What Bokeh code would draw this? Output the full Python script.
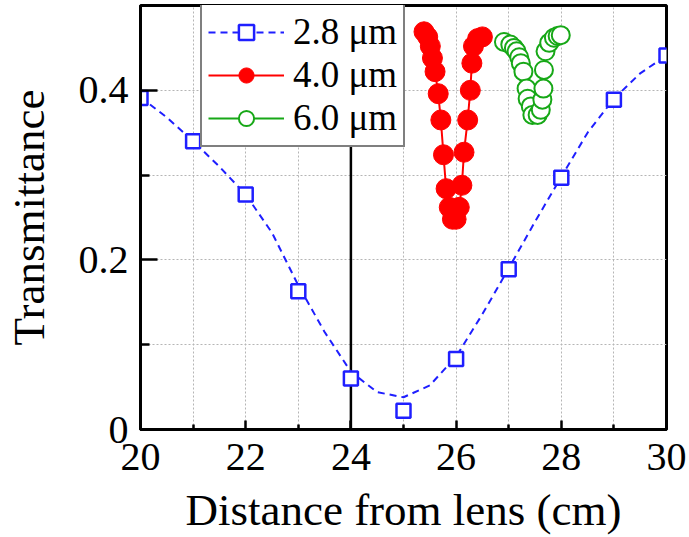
from bokeh.plotting import figure
from bokeh.models import Range1d, FixedTicker, Legend, LegendItem, Span
from bokeh.embed import file_html
from bokeh.resources import INLINE

# ---------------- data ----------------
distance_28 = [20, 21, 22, 23, 24, 25, 26, 27, 28, 29, 30]
trans_28 = [0.391, 0.340, 0.277, 0.163, 0.060, 0.022, 0.083, 0.189, 0.297, 0.389, 0.441]

fit_distance_28 = [20, 20.5, 21, 21.5, 22, 22.5, 23, 23.5, 24, 24.5, 25, 25.5,
                   26, 26.5, 27, 27.5, 28, 28.5, 29, 29.5, 30]
fit_trans_28 = [0.392, 0.368, 0.340, 0.310, 0.277, 0.232, 0.170, 0.115, 0.068, 0.044,
                0.038, 0.052, 0.086, 0.136, 0.190, 0.245, 0.298, 0.350, 0.390, 0.420, 0.441]

distance_40 = [25.39, 25.46, 25.51, 25.55, 25.60, 25.66, 25.71, 25.76, 25.81, 25.87, 25.93,
               26.00, 26.06, 26.11, 26.15, 26.22, 26.27, 26.30, 26.33, 26.41, 26.50]
trans_40 = [0.469, 0.463, 0.452, 0.438, 0.422, 0.396, 0.365, 0.324, 0.284, 0.262, 0.248,
            0.248, 0.262, 0.288, 0.327, 0.365, 0.400, 0.432, 0.452, 0.461, 0.463]

distance_60 = [26.91, 27.03, 27.10, 27.15, 27.20, 27.23, 27.28, 27.34, 27.36, 27.42, 27.45,
               27.55, 27.61, 27.64, 27.66, 27.67, 27.70, 27.77, 27.86, 27.93, 27.99]
trans_60 = [0.457, 0.454, 0.450, 0.446, 0.439, 0.432, 0.422, 0.402, 0.390, 0.381, 0.371,
            0.371, 0.377, 0.389, 0.402, 0.424, 0.446, 0.456, 0.462, 0.464, 0.465]

series_labels = ["2.8 μm", "4.0 μm", "6.0 μm"]
x_ticks = [20, 22, 24, 26, 28, 30]
x_minor_ticks = [21, 23, 25, 27, 29]
y_ticks = [0, 0.2, 0.4]
y_minor_ticks = [0.1, 0.3]
y_tick_labels = ["0", "0.2", "0.4"]
reference_distance = 24

FONT = "Liberation Serif"
BLUE = "#1f1fff"
RED = "#ff0000"
GREEN = "#17a817"

# ---------------- figure ----------------
p = figure(width=689, height=537, output_backend="svg", toolbar_location=None,
           x_range=Range1d(20, 30), y_range=Range1d(0, 0.5),
           min_border_left=139, min_border_right=23, min_border_top=5, min_border_bottom=107)
p.background_fill_color = "white"
p.border_fill_color = "white"
p.outline_line_color = "black"
p.outline_line_width = 3

# axes
p.xaxis.ticker = FixedTicker(ticks=x_ticks, minor_ticks=x_minor_ticks)
p.yaxis.ticker = FixedTicker(ticks=y_ticks, minor_ticks=y_minor_ticks)
p.yaxis.major_label_overrides = {t: s for t, s in zip(y_ticks, y_tick_labels)}
p.xaxis.axis_label = "Distance from lens (cm)"
p.yaxis.axis_label = "Transmittance"
for ax in (p.xaxis, p.yaxis):
    ax.axis_line_width = 3
    ax.axis_line_color = "black"
    ax.major_tick_out = 0
    ax.minor_tick_out = 0
    ax.major_tick_line_width = 2.5
    ax.minor_tick_line_width = 2.5
    ax.major_label_text_font = FONT
    ax.major_label_text_font_size = "40px"
    ax.major_label_text_color = "black"
    ax.axis_label_text_font = FONT
    ax.axis_label_text_font_size = "45px"
    ax.axis_label_text_font_style = "normal"
    ax.axis_label_text_color = "black"
p.xaxis.major_tick_in = 9
p.xaxis.minor_tick_in = 5
p.yaxis.major_tick_in = 17
p.yaxis.minor_tick_in = 9
p.xaxis.major_label_standoff = 14
p.yaxis.major_label_standoff = 12
p.xaxis.axis_label_standoff = 12
p.yaxis.axis_label_standoff = 22

# grid (dotted, also at minor ticks)
for g in (p.xgrid, p.ygrid):
    g.grid_line_color = "#b5b5b5"
    g.grid_line_dash = "2 2"
    g.grid_line_width = 1
    g.minor_grid_line_color = "#b5b5b5"
    g.minor_grid_line_dash = "2 2"
    g.minor_grid_line_width = 1

# vertical reference line
vline = Span(location=reference_distance, dimension="height", line_color="black",
             line_width=2.5, level="underlay")
p.add_layout(vline)

# 2.8 um
fit_r = p.line(fit_distance_28, fit_trans_28, line_color=BLUE, line_width=2, line_dash="7 5")
sq_r = p.scatter(distance_28, trans_28, marker="square", size=14, line_color=BLUE,
                 line_width=2.5, fill_color="white")

# 4.0 um
red_line = p.line(distance_40, trans_40, line_color=RED, line_width=2)
red_pts = p.scatter(distance_40, trans_40, marker="circle", size=20, line_color=RED,
                    fill_color=RED, line_width=1)

# 6.0 um
green_line = p.line(distance_60, trans_60, line_color=GREEN, line_width=2)
green_pts = p.scatter(distance_60, trans_60, marker="circle", size=18, line_color=GREEN,
                      fill_color="white", line_width=2)

legend = Legend(items=[
    LegendItem(label=series_labels[0], renderers=[fit_r, sq_r]),
    LegendItem(label=series_labels[1], renderers=[red_line, red_pts]),
    LegendItem(label=series_labels[2], renderers=[green_line, green_pts]),
], location=(60, 282))
legend.label_text_font = FONT
legend.label_text_font_size = "37px"
legend.label_text_color = "black"
legend.glyph_width = 76
legend.glyph_height = 38
legend.label_height = 38
legend.label_standoff = 9
legend.spacing = -2
legend.padding = 6
legend.margin = 0
legend.border_line_color = "black"
legend.border_line_width = 2.5
legend.background_fill_color = "white"
legend.background_fill_alpha = 1.0
p.add_layout(legend)

open("out.html", "w").write(file_html(p, INLINE))
